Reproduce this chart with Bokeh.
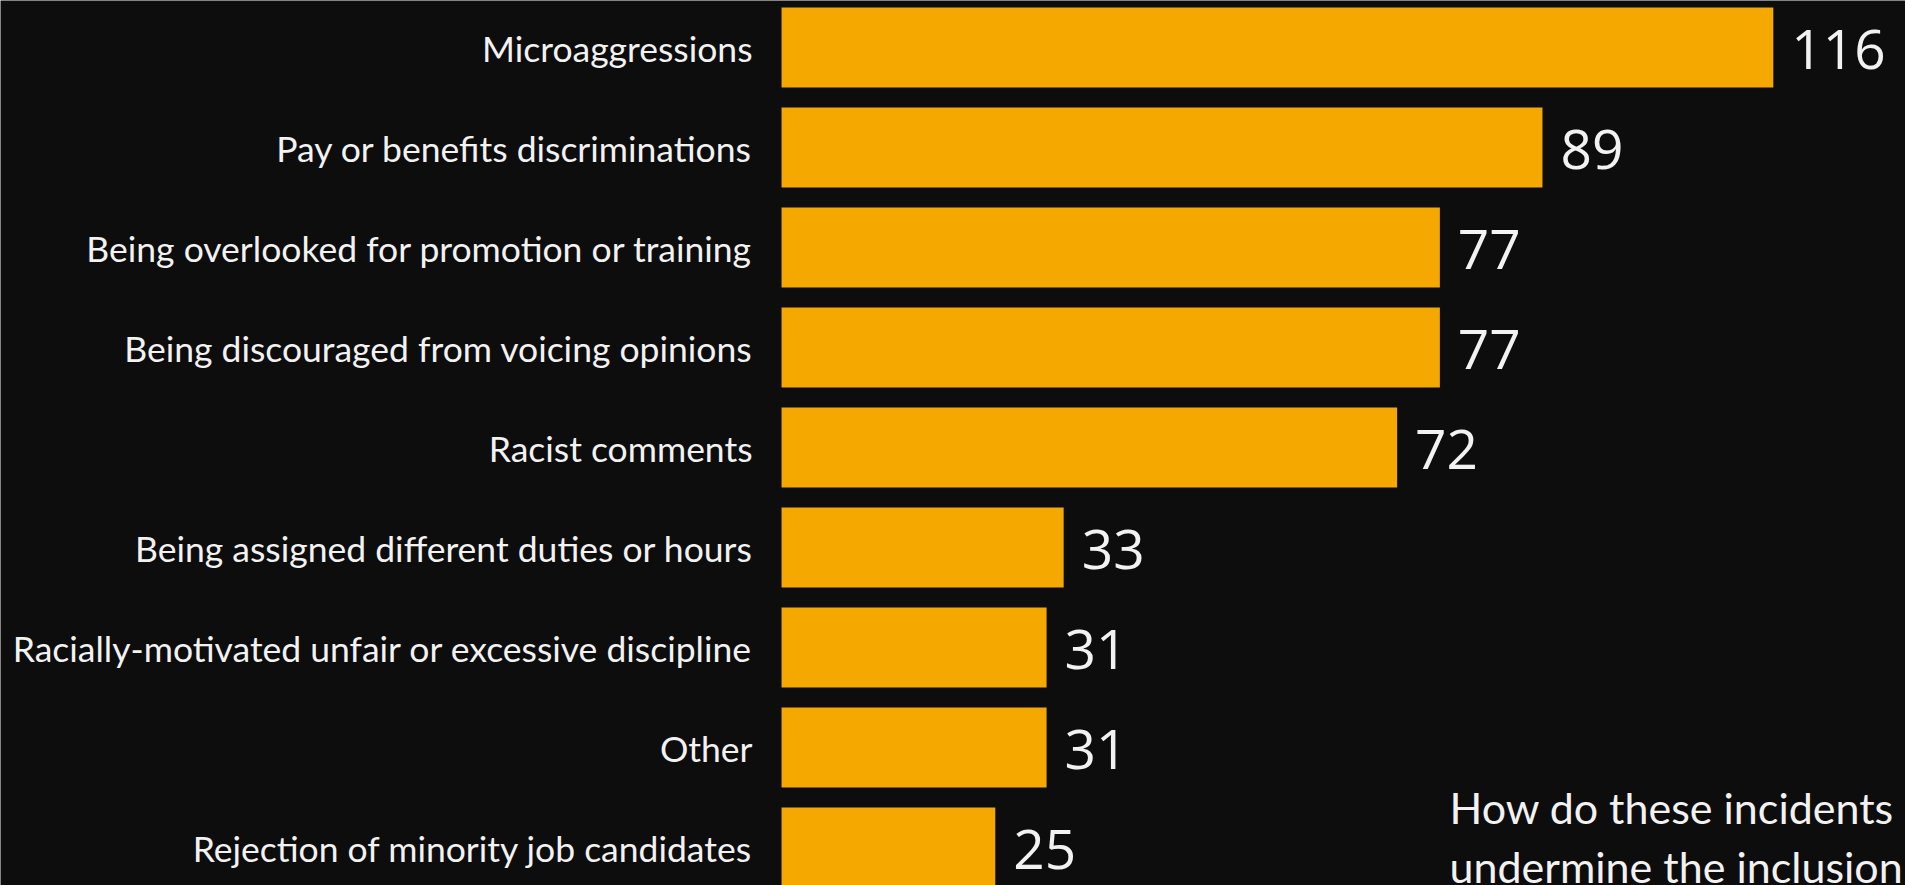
from bokeh.plotting import figure
from bokeh.models import ColumnDataSource, Range1d, Label
from bokeh.core.properties import value
from bokeh.embed import file_html
from bokeh.resources import INLINE

categories = [
    "Microaggressions",
    "Pay or benefits discriminations",
    "Being overlooked for promotion or training",
    "Being discouraged from voicing opinions",
    "Racist comments",
    "Being assigned different duties or hours",
    "Racially-motivated unfair or excessive discipline",
    "Other",
    "Rejection of minority job candidates",
]
counts = [116, 89, 77, 77, 72, 33, 31, 31, 25]
caption_lines = ["How do these incidents", "undermine the inclusion"]

BG = "#0d0d0d"
BAR = "#F4A800"
TXT = "#f2f2f2"

src = ColumnDataSource(dict(
    y=list(range(len(categories))),
    cat=categories,
    n=counts,
    lbl=[str(c) for c in counts],
    zero=[0] * len(counts),
))

p = figure(width=1905, height=885, output_backend="svg", toolbar_location=None,
           x_range=Range1d(-91.35, 131.46), y_range=Range1d(8.38, -0.47),
           min_border=0, background_fill_color=BG, border_fill_color=BG,
           outline_line_color=None)
p.axis.visible = False
p.grid.visible = False

p.hbar(y="y", left="zero", right="n", height=0.8, source=src,
       fill_color=BAR, line_color=None)

p.text(x="zero", y="y", text="cat", source=src, text_align="right",
       text_baseline="middle", x_offset=-29, y_offset=1,
       text_font=value("Lato"), text_font_size="35.5px", text_color=TXT)

p.text(x="n", y="y", text="lbl", source=src, text_align="left",
       text_baseline="middle", x_offset=18, y_offset=2,
       text_font=value("Open Sans"), text_font_size="55px", text_color=TXT)

for line, yb in zip(caption_lines, [78, 19]):
    p.add_layout(Label(x=1449, y=yb, x_units="screen", y_units="screen",
                       text=line, text_font="Lato", text_font_size="43px",
                       text_color=TXT, text_baseline="alphabetic"))

open("out.html", "w").write(file_html(p, INLINE))
